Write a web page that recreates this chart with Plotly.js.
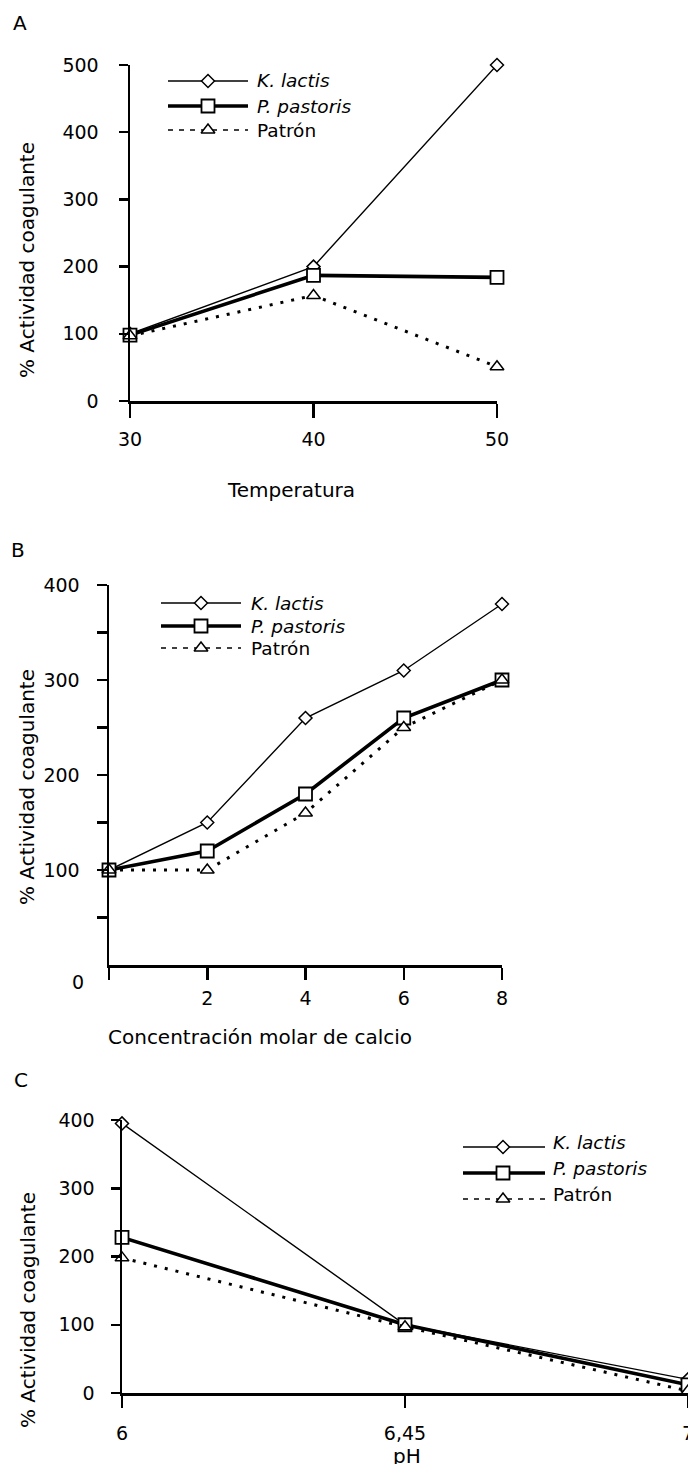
<!DOCTYPE html>
<html>
<head>
<meta charset="utf-8">
<script src="https://cdn.plot.ly/plotly-3.0.1.min.js"></script>
<style>
  html, body { margin: 0; padding: 0; background: #fff; }
  #chart { width: 688px; height: 1464px; }
</style>
</head>
<body>
<div id="chart"></div>
<script>
// ---------------- DATA ----------------
// Panel A: temperature
const tempA = [30, 40, 50];
const kLactisA = [100, 200, 500];
const pPastorisA = [98, 187, 184];
const patronA = [97, 157, 51];

// Panel B: calcium molar concentration
const calcioB = [0, 2, 4, 6, 8];
const calcioBTickText = ['', '2', '4', '6', '8'];
const kLactisB = [100, 150, 260, 310, 380];
const pPastorisB = [100, 120, 180, 260, 300];
const patronB = [100, 100, 160, 250, 300];

// Panel C: pH
const phC = ['6', '6,45', '7'];
const kLactisC = [395, 100, 20];
const pPastorisC = [228, 100, 12];
const patronC = [198, 97, 3];

const seriesNames = ['<i>K. lactis</i>', '<i>P. pastoris</i>', 'Patrón'];
const yTitle = '% Actividad coagulante';

// ---------------- STYLE / LAYOUT HELPERS ----------------
const W = 688, H = 1464;
const FONT = 'DejaVu Sans';
const px = v => v / W;
const py = v => 1 - v / H;

const styles = [
  { line: { color: '#000', width: 1.4 }, marker: { symbol: 'diamond', size: 10, color: '#fff', line: { color: '#000', width: 1.5 } } },
  { line: { color: '#000', width: 3.6 }, marker: { symbol: 'square', size: 13, color: '#fff', line: { color: '#000', width: 1.8 } } },
  { line: { color: '#000', width: 3, dash: '3px,8px' }, marker: { symbol: 'triangle-up', size: 12, color: '#fff', line: { color: '#000', width: 1.5 } } }
];

function series(x, ys, xa, ya) {
  return ys.map((y, i) => ({
    x: x, y: y, xaxis: xa, yaxis: ya, type: 'scatter', mode: 'lines+markers',
    line: styles[i].line, marker: styles[i].marker, cliponaxis: false,
    showlegend: false, hoverinfo: 'skip'
  }));
}

const traces = [].concat(
  series(tempA, [kLactisA, pPastorisA, patronA], 'x', 'y'),
  series(calcioB, [kLactisB, pPastorisB, patronB], 'x2', 'y2'),
  series(phC, [kLactisC, pPastorisC, patronC], 'x3', 'y3')
);

// Custom legend boxes (layout positions in pixels)
const legendBoxes = [
  { x0: 168, xm: 208, x1: 248, tx: 255, rows: [81, 106, 130], dy: 0 },
  { x0: 161, xm: 201, x1: 241, tx: 249, rows: [603, 626, 648], dy: 0 },
  { x0: 463, xm: 503, x1: 545, tx: 551, rows: [1147, 1173, 1199], dy: -5 }
];
const legendLine = [
  { color: '#000', width: 1.4 },
  { color: '#000', width: 3.6 },
  { color: '#000', width: 1.6, dash: '5px,6px' }
];
const annotations = [];
legendBoxes.forEach(b => {
  b.rows.forEach((r, i) => {
    traces.push({
      x: [b.x0, b.xm, b.x1], y: [r, r, r], xaxis: 'x7', yaxis: 'y7',
      type: 'scatter', mode: 'lines+markers', line: legendLine[i],
      marker: Object.assign({}, styles[i].marker, { opacity: [0, 1, 0] }),
      cliponaxis: false, showlegend: false, hoverinfo: 'skip'
    });
    annotations.push({
      xref: 'paper', yref: 'paper', x: px(b.tx), y: py(r + b.dy),
      xanchor: 'left', yanchor: 'middle', showarrow: false,
      text: seriesNames[i], font: { family: FONT, size: 18.5, color: '#000' }
    });
  });
});

function txt(text, x, y, opts) {
  annotations.push(Object.assign({
    xref: 'paper', yref: 'paper', x: px(x), y: py(y),
    xanchor: 'center', yanchor: 'middle', showarrow: false, text: text,
    font: { family: FONT, size: 20, color: '#000' }
  }, opts || {}));
}
// panel letters
txt('A', 20, 23);
txt('B', 18, 550);
txt('C', 21, 1080);
// axis titles
txt('Temperatura', 291, 490);
txt('Concentración molar de calcio', 260, 1037);
txt('pH', 407, 1456);
txt(yTitle, 27, 260, { textangle: -90 });
txt(yTitle, 27, 787, { textangle: -90 });
txt(yTitle, 28, 1310, { textangle: -90 });
// panel B zero label (sits below axis in original)
txt('0', 78, 982, { font: { family: FONT, size: 19, color: '#000' } });

const tickFont = { family: FONT, size: 19, color: '#000' };
const baseAx = {
  showline: true, linewidth: 2.5, linecolor: '#000', showgrid: false, zeroline: false,
  ticks: 'outside', tickwidth: 2.5, tickcolor: '#000', tickfont: tickFont, fixedrange: true
};
const innerAx = {
  showline: false, showgrid: false, zeroline: false, ticks: 'inside', tickwidth: 2.5,
  tickcolor: '#000', showticklabels: false, fixedrange: true
};

const layout = {
  width: W, height: H,
  margin: { l: 0, r: 0, t: 0, b: 0, pad: 0 },
  paper_bgcolor: '#fff', plot_bgcolor: 'rgba(0,0,0,0)',
  font: { family: FONT, size: 19, color: '#000' },
  showlegend: false,
  // Panel A
  xaxis: Object.assign({}, baseAx, { domain: [px(130), px(497)], range: [30, 50], anchor: 'y',
    tickmode: 'array', tickvals: tempA, ticklen: 14, ticklabelstandoff: 6 }),
  yaxis: Object.assign({}, baseAx, { domain: [py(401), py(65)], range: [0, 500], anchor: 'x',
    tickmode: 'array', tickvals: [0, 100, 200, 300, 400, 500], ticklen: 9, ticklabelstandoff: 16 }),
  xaxis4: Object.assign({}, innerAx, { overlaying: 'x', anchor: 'y', range: [30, 50],
    tickmode: 'array', tickvals: tempA, ticklen: 9 }),
  // Panel B
  xaxis2: Object.assign({}, baseAx, { domain: [px(109), px(502)], range: [0, 8], anchor: 'y2',
    tickmode: 'array', tickvals: calcioB, ticktext: calcioBTickText, ticklen: 12, ticklabelstandoff: 3 }),
  yaxis2: Object.assign({}, baseAx, { domain: [py(965), py(585)], range: [0, 400], anchor: 'x2',
    tickmode: 'array', tickvals: [50, 100, 150, 200, 250, 300, 350, 400],
    ticktext: ['', '100', '', '200', '', '300', '', '400'], ticklen: 10, ticklabelstandoff: 13 }),
  xaxis5: Object.assign({}, innerAx, { overlaying: 'x2', anchor: 'y2', range: [0, 8],
    tickmode: 'array', tickvals: calcioB, ticklen: 12 }),
  // Panel C
  xaxis3: Object.assign({}, baseAx, { domain: [px(122), 1], range: [0, 2], anchor: 'y3', type: 'category',
    ticklen: 12, ticklabelstandoff: 10 }),
  yaxis3: Object.assign({}, baseAx, { domain: [py(1393), py(1120)], range: [0, 400], anchor: 'x3',
    tickmode: 'array', tickvals: [0, 100, 200, 300, 400], ticklen: 9, ticklabelstandoff: 12 }),
  xaxis6: Object.assign({}, innerAx, { overlaying: 'x3', anchor: 'y3', range: [0, 2], type: 'category',
    categoryarray: phC, categoryorder: 'array', ticklen: 11, tickmode: 'array', tickvals: [0, 1, 2] }),
  // Legend overlay (pixel space)
  xaxis7: { domain: [0, 1], range: [0, W], anchor: 'y7', visible: false, fixedrange: true },
  yaxis7: { domain: [0, 1], range: [H, 0], anchor: 'x7', visible: false, fixedrange: true },
  annotations: annotations
};

Plotly.newPlot('chart', traces, layout, { displayModeBar: false, staticPlot: true });
</script>
</body>
</html>
